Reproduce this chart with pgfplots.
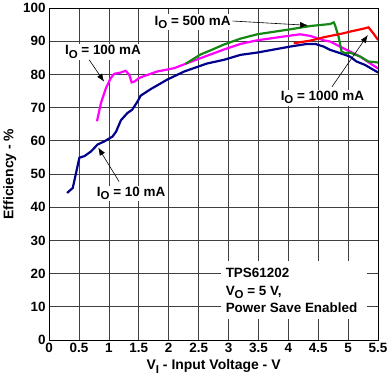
\documentclass[border=0pt]{standalone}
\usepackage{pgfplots}
\pgfplotsset{compat=1.18}
\usepackage{fontspec}
\setmainfont{Liberation Sans}
\usetikzlibrary{calc,arrows.meta}
\newcommand\fs{\fontsize{13.5}{16}\selectfont\bfseries}
\newcommand\fl{\fontsize{14}{16.5}\selectfont\bfseries}
\newcommand\sub[1]{\raisebox{-0.45ex}{\fontsize{11.5}{11.5}\selectfont\bfseries #1}}
\definecolor{cblue}{RGB}{0,0,140}
\definecolor{cmag}{RGB}{255,0,255}
\definecolor{cgreen}{RGB}{20,135,20}
\definecolor{cred}{RGB}{255,0,0}
\begin{document}
\begin{tikzpicture}
\begin{axis}[name=ax, scale only axis, width=330pt, height=333pt,
  xmin=0, xmax=5.5, ymin=0, ymax=100,
  xtick={0,0.5,1,1.5,2,2.5,3,3.5,4,4.5,5,5.5},
  xticklabels={0,0.5,1,1.5,2,2.5,3,3.5,4,4.5,5,5.5},
  ytick={0,10,20,30,40,50,60,70,80,90,100},
  grid=major, grid style={black!75, line width=0.75pt},
  major tick length=0pt,
  tick label style={font=\fs},
  /pgf/number format/assume math mode=true,
  xlabel={V\sub{I} - Input Voltage - V},
  ylabel={Efficiency - \%},
  label style={font=\fl},
  axis line style={black, line width=0.8pt},
  ]
\addplot[cblue, line width=2.2pt] coordinates {
(0.30,44.3)(0.395,45.8)(0.45,50.3)(0.505,54.9)(0.59,55.4)(0.70,56.8)(0.81,58.9)(0.92,59.8)(1.06,61.3)(1.12,62.8)(1.20,66.2)(1.31,68.4)(1.39,69.4)(1.48,71.9)(1.53,73.6)(1.70,75.6)(1.98,78.5)(2.26,80.9)(2.64,83.3)(2.92,84.4)(3.20,85.9)(3.48,86.6)(4.03,88.4)(4.31,89.2)(4.45,89.2)(4.59,88.4)(4.70,87.4)(4.87,86.4)(5.03,85.4)(5.14,83.9)(5.28,82.9)(5.50,80.6)};
\addplot[cmag, line width=2.2pt] coordinates {
(0.80,65.9)(0.867,71.4)(0.95,75.9)(1.03,78.9)(1.09,80.2)(1.20,80.6)(1.28,81.1)(1.34,79.9)(1.38,77.6)(1.43,77.9)(1.50,78.9)(1.60,79.6)(1.81,80.9)(2.09,81.9)(2.28,83.2)(2.53,84.9)(2.92,87.5)(3.20,89.2)(3.48,90.3)(4.03,91.7)(4.20,92.1)(4.37,91.6)(4.59,90.3)(4.70,89.9)(4.92,87.9)(5.03,86.9)(5.20,85.4)(5.28,84.4)(5.50,81.8)};
\addplot[cgreen, line width=2.2pt] coordinates {
(2.28,83.2)(2.53,86.0)(2.73,87.5)(2.92,89.0)(3.20,90.8)(3.48,92.1)(4.03,93.6)(4.37,94.6)(4.70,95.2)(4.76,95.7)(4.78,94.9)(4.84,91.4)(4.89,86.9)(4.95,86.4)(5.03,86.6)(5.20,85.4)(5.34,83.9)(5.50,83.6)};
\addplot[cred, line width=2.2pt] coordinates {
(4.09,89.4)(4.37,90.2)(4.59,91.2)(4.92,92.4)(5.03,92.9)(5.28,93.9)(5.34,94.2)(5.42,92.4)(5.50,90.4)};
\fill[white] (axis cs:2.87,6.3) rectangle (axis cs:5.32,23.7);
\node[anchor=west, align=left, font=\fontsize{13.5}{17.5}\selectfont\bfseries, inner sep=0pt] at (axis cs:2.95,14.9) {TPS61202\\V\sub{O} = 5 V,\\Power Save Enabled};
\node[fill=white, inner sep=1.5pt, font=\fs] at (axis cs:2.4,95.8) {I\sub{O} = 500 mA};
\node[fill=white, inner sep=1.5pt, font=\fs] at (axis cs:0.9,86.8) {I\sub{O} = 100 mA};
\node[fill=white, inner sep=1.5pt, font=\fs] at (axis cs:1.37,44.1) {I\sub{O} = 10 mA};
\node[fill=white, inner sep=1.5pt, font=\fs] at (axis cs:4.57,73.0) {I\sub{O} = 1000 mA};
\draw[line width=0.6pt, -{Latex[length=8pt,width=6pt]}] (axis cs:3.07,96.1) -- (axis cs:4.33,94.8);
\draw[line width=0.6pt, -{Latex[length=8pt,width=6pt]}] (axis cs:0.67,84.4) -- (axis cs:0.92,77.8);
\draw[line width=0.6pt, -{Latex[length=8pt,width=6pt]}] (axis cs:1.17,47.7) -- (axis cs:0.82,58.0);
\draw[line width=0.6pt, -{Latex[length=8pt,width=6pt]}] (axis cs:4.73,76.3) -- (axis cs:5.33,91.9);
\end{axis}
\path ($(ax.south west)+(-48pt,-41pt)$) rectangle ($(ax.north east)+(13pt,8pt)$);
\end{tikzpicture}
\end{document}
